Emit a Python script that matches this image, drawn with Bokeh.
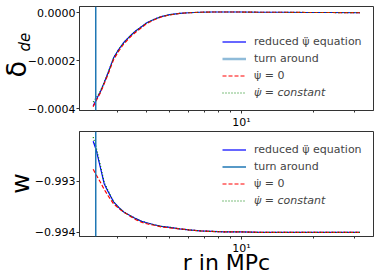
from bokeh.plotting import figure
from bokeh.layouts import column, row
from bokeh.models import (Range1d, FixedTicker, CustomJSTickFormatter, Span,
                          Legend, LegendItem, Label, ColumnDataSource)
from bokeh.embed import file_html
from bokeh.resources import INLINE
import math

# ---------------- data ----------------
r = [2.38, 2.45, 2.55, 2.65, 2.75, 2.9, 3.05, 3.2, 3.4, 3.6, 3.8, 4.0, 4.3,
     4.6, 5.0, 5.5, 6.0, 6.7, 7.5, 8.5, 10, 12, 15, 19, 24, 31.5]

delta_reduced = [-0.000388, -0.000362, -0.000330, -0.000290, -0.000250, -0.000188,
                 -0.000152, -0.000124, -0.000097, -0.000075, -0.000058, -0.000042,
                 -0.000027, -0.000016, -0.000008, -0.000003, 0.000000, 0.000002,
                 0.000003, 0.000003, 0.000003, 0.000002, 0.000002, 0.000001,
                 0.000001, 0.000000]
delta_psidot0 = [-0.000391, -0.000366, -0.000334, -0.000295, -0.000256, -0.000195,
                 -0.000159, -0.000130, -0.000102, -0.000080, -0.000062, -0.000045,
                 -0.000029, -0.000017, -0.000009, -0.000003, 0.000000, 0.000002,
                 0.000003, 0.000003, 0.000003, 0.000002, 0.000002, 0.000001,
                 0.000001, 0.000000]
delta_psidotc = [-0.000372, -0.000354, -0.000327, -0.000289, -0.000250, -0.000188,
                 -0.000152, -0.000124, -0.000097, -0.000075, -0.000058, -0.000042,
                 -0.000027, -0.000016, -0.000008, -0.000003, 0.000000, 0.000002,
                 0.000003, 0.000003, 0.000003, 0.000002, 0.000002, 0.000001,
                 0.000001, 0.000000]

w_reduced = [-0.99221, -0.99238, -0.99272, -0.99305, -0.99320, -0.99340, -0.99351,
             -0.99360, -0.99367, -0.99373, -0.99378, -0.99381, -0.99385, -0.99388,
             -0.99390, -0.99393, -0.99395, -0.99397, -0.99398, -0.99399, -0.99399,
             -0.99400, -0.99400, -0.99400, -0.99400, -0.99400]
w_psidot0 = [-0.99276, -0.99287, -0.99301, -0.99316, -0.99328, -0.99344, -0.99353,
             -0.99360, -0.99368, -0.99375, -0.99380, -0.99383, -0.99386, -0.99389,
             -0.99391, -0.99393, -0.99395, -0.99397, -0.99398, -0.99399, -0.99399,
             -0.99400, -0.99400, -0.99400, -0.99400, -0.99400]
w_psidotc = [-0.99213, -0.99233, -0.99268, -0.99302, -0.99318, -0.99340, -0.99351,
             -0.99360, -0.99367, -0.99373, -0.99378, -0.99381, -0.99385, -0.99388,
             -0.99390, -0.99393, -0.99395, -0.99397, -0.99398, -0.99399, -0.99399,
             -0.99400, -0.99400, -0.99400, -0.99400, -0.99400]

turn_around_r = 2.44

x_major_ticks = [10]
x_minor_ticks = [3, 4, 5, 6, 7, 8, 9, 20, 30]
x_tick_labels = {10: "10\u00b9"}
delta_ticks = [-0.0004, -0.0002, 0.0]
w_ticks = [-0.994, -0.993]

labels = ["reduced \u03c8\u0308 equation", "turn around", "\u03c8\u0307 = 0", "\u03c8\u0307 = constant"]

# ---------------- styling ----------------
FONT = "DejaVu Sans"
C_RED = "blue"
C_TURN = "#1f77b4"
STRIP_W = 40          # strip holding the rotated y titles
PLOT_X0 = 9           # where the plot canvases start on the page
PLOT_W = 379 - PLOT_X0
LEFT = 79 - PLOT_X0

src = ColumnDataSource(dict(r=r, d1=delta_reduced, d2=delta_psidot0, d3=delta_psidotc,
                            w1=w_reduced, w2=w_psidot0, w3=w_psidotc))
# legend-only source for the vertical "turn around" line (draws nothing itself)
turn_src = ColumnDataSource(dict(x=[turn_around_r], y=[float("nan")]))

x_range = Range1d(2.085, 35.9)


def style(p, yticks, digits):
    p.xaxis.ticker = FixedTicker(ticks=x_major_ticks, minor_ticks=x_minor_ticks)
    p.xaxis.major_label_overrides = x_tick_labels
    p.yaxis.ticker = FixedTicker(ticks=yticks, minor_ticks=[])
    p.yaxis.formatter = CustomJSTickFormatter(
        code="return tick.toFixed(%d).replace('-', '\\u2212');" % digits)
    for ax in (p.xaxis, p.yaxis):
        ax.major_label_text_font = FONT
        ax.major_label_text_font_size = "11px"
        ax.major_label_text_color = "black"
        ax.major_tick_out = 3
        ax.major_tick_in = 0
        ax.minor_tick_out = 2
        ax.minor_tick_in = 0
        ax.major_tick_line_color = "#333333"
        ax.minor_tick_line_color = "#333333"
        ax.axis_line_color = "#333333"
        ax.major_label_standoff = 1
    p.xaxis.major_label_standoff = 2
    p.xgrid.visible = False
    p.ygrid.visible = False
    p.outline_line_color = "#333333"
    p.outline_line_alpha = 1
    p.outline_line_width = 1
    p.border_fill_alpha = 0


def legends(p, rr, turn_alpha, turn_width, loc_y):
    turn = p.line("x", "y", source=turn_src, line_color=C_TURN, line_alpha=turn_alpha,
                  line_width=turn_width)
    common = dict(label_text_font=FONT, label_text_font_size="11px", glyph_width=24,
                  glyph_height=17, label_height=17, label_standoff=8, spacing=0,
                  padding=0, margin=0, border_line_alpha=0, background_fill_alpha=0)
    lg1 = Legend(items=[LegendItem(label=labels[0], renderers=[rr[0]]),
                        LegendItem(label=labels[1], renderers=[turn]),
                        LegendItem(label=labels[2], renderers=[rr[1]])],
                 location=(143, loc_y + 17), **common)
    lg2 = Legend(items=[LegendItem(label=labels[3], renderers=[rr[2]])],
                 location=(143, loc_y), label_text_font_style="italic", **common)
    p.add_layout(lg1)
    p.add_layout(lg2)


# ---------------- top figure ----------------
p1 = figure(width=PLOT_W, height=131, x_axis_type="log", x_range=x_range,
            y_range=Range1d(-0.000407, 0.000026), output_backend="svg",
            toolbar_location=None, min_border_left=LEFT, min_border_right=6,
            min_border_top=6, min_border_bottom=21)
style(p1, delta_ticks, 4)
p1.add_layout(Span(location=turn_around_r, dimension="height", line_color=C_TURN, line_width=1.5))
a1 = p1.line("r", "d1", source=src, line_color=C_RED, line_width=1.2)
b1 = p1.line("r", "d2", source=src, line_color="red", line_width=1.2, line_dash="4 2")
c1 = p1.line("r", "d3", source=src, line_color="green", line_width=1.2, line_dash="1 2")
legends(p1, [a1, b1, c1], 0.5, 2.5, 9)

# ---------------- bottom figure ----------------
p2 = figure(width=PLOT_W, height=148, x_axis_type="log", x_range=x_range,
            y_range=Range1d(-0.99408, -0.99202), output_backend="svg",
            toolbar_location=None, min_border_left=LEFT, min_border_right=6,
            min_border_top=0, min_border_bottom=43)
style(p2, w_ticks, 3)
p2.xaxis.axis_label = "r in MPc"
p2.xaxis.axis_label_text_font = FONT
p2.xaxis.axis_label_text_font_size = "22px"
p2.xaxis.axis_label_text_font_style = "normal"
p2.xaxis.axis_label_text_color = "black"
p2.xaxis.axis_label_standoff = -8
p2.add_layout(Span(location=turn_around_r, dimension="height", line_color=C_TURN, line_width=1.5))
a2 = p2.line("r", "w1", source=src, line_color=C_RED, line_width=1.2)
b2 = p2.line("r", "w2", source=src, line_color="red", line_width=1.2, line_dash="4 2")
c2 = p2.line("r", "w3", source=src, line_color="green", line_width=1.2, line_dash="1 2")
legends(p2, [a2, b2, c2], 1.0, 1.5, 27)

# ---------------- y-axis titles (strip underneath the plots' left border) ----------------
H = 131 + 148
pl = figure(width=STRIP_W, height=H, x_range=Range1d(0, STRIP_W), y_range=Range1d(0, H),
            output_backend="svg", toolbar_location=None, min_border=0)
pl.axis.visible = False
pl.grid.visible = False
pl.outline_line_color = None
pl.add_layout(Label(x=16, y=H - 77, text="\u03b4",
                    angle=math.pi / 2, text_align="left", text_baseline="middle",
                    text_font=FONT, text_font_size="27px", text_color="black"))
pl.add_layout(Label(x=24.5, y=H - 51, text="de",
                    angle=math.pi / 2, text_align="left", text_baseline="middle",
                    text_font=FONT, text_font_size="15px", text_font_style="italic",
                    text_color="black"))
pl.add_layout(Label(x=20, y=H - 183, text="w",
                    angle=math.pi / 2, text_align="center", text_baseline="middle",
                    text_font=FONT, text_font_size="25px", text_color="black"))

plots = column(p1, p2, styles={"margin-left": "%dpx" % (PLOT_X0 - STRIP_W)})
layout = row(pl, plots)

open("out.html", "w").write(file_html(layout, INLINE))
